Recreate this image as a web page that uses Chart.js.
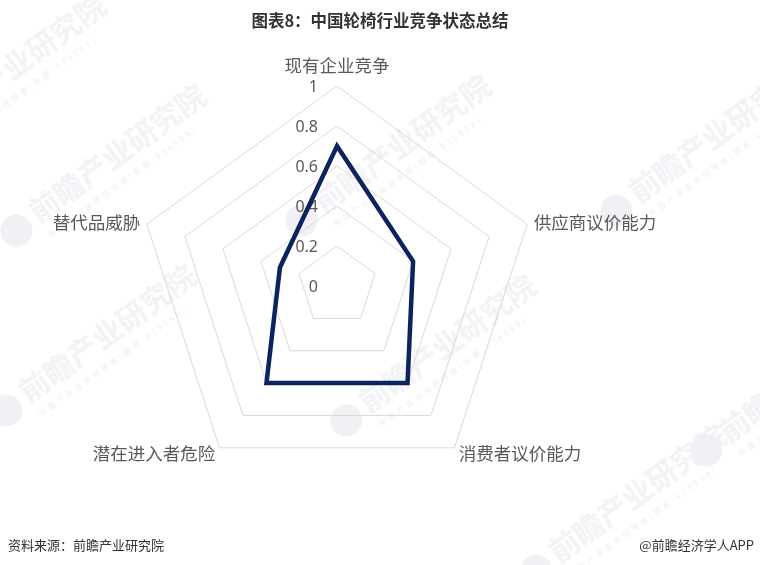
<!DOCTYPE html>
<html>
<head>
<meta charset="utf-8">
<script src="https://cdn.jsdelivr.net/npm/chart.js@4.4.0/dist/chart.umd.min.js"></script>
<style>
  html, body { margin: 0; padding: 0; background: #fff; }
  #wrap { position: relative; width: 760px; height: 565px; overflow: hidden; font-family: "Noto Sans CJK SC", sans-serif; }
  #radar { position: absolute; left: 0; top: 0; z-index: 2; }
  .title { position: absolute; left: 0; top: 8px; width: 760px; text-align: center; font-size: 16.5px; font-weight: 700; color: #333; line-height: 24px; z-index: 3; }
  .src { position: absolute; left: 8px; top: 536px; font-size: 13px; color: #333; line-height: 18px; z-index: 3; }
  .app { position: absolute; right: 6px; top: 536px; font-size: 13px; color: #333; line-height: 18px; z-index: 3; }
  .wm { position: absolute; z-index: 1; transform: rotate(-36deg); transform-origin: center; white-space: nowrap; color: #f2f3f6; font-weight: 700; font-size: 30px; }
  .wm small { display: block; font-size: 8px; font-weight: 400; letter-spacing: 3px; margin-left: 40px; color: #eff0f3; }
  .wm i { display: inline-block; width: 32px; height: 32px; border-radius: 50%; background: #eff1f4; vertical-align: middle; margin-right: 6px; }
</style>
</head>
<body>
<div id="wrap">
  <div class="title">图表8：中国轮椅行业竞争状态总结</div>
  <div class="wm" style="left:265px; top:130px;"><i></i>前瞻产业研究院<small>中国产业咨询领导者(股票:839599)</small></div>
  <div class="wm" style="left:580px; top:120px;"><i></i>前瞻产业研究院<small>中国产业咨询领导者(股票:839599)</small></div>
  <div class="wm" style="left:-20px; top:140px;"><i></i>前瞻产业研究院<small>中国产业咨询领导者(股票:839599)</small></div>
  <div class="wm" style="left:-120px; top:50px;"><i></i>前瞻产业研究院<small>中国产业咨询领导者(股票:839599)</small></div>
  <div class="wm" style="left:310px; top:330px;"><i></i>前瞻产业研究院<small>中国产业咨询领导者(股票:839599)</small></div>
  <div class="wm" style="left:-30px; top:320px;"><i></i>前瞻产业研究院<small>中国产业咨询领导者(股票:839599)</small></div>
  <div class="wm" style="left:500px; top:480px;"><i></i>前瞻产业研究院<small>中国产业咨询领导者(股票:839599)</small></div>
  <div class="wm" style="left:670px; top:360px;"><i></i>前瞻产业研究院<small>中国产业咨询领导者(股票:839599)</small></div>
  <canvas id="radar" width="760" height="565"></canvas>
  <div class="src">资料来源：前瞻产业研究院</div>
  <div class="app">@前瞻经济学人APP</div>
</div>
<script>
// axes, clockwise from the top
const categories = ['现有企业竞争', '供应商议价能力', '消费者议价能力', '潜在进入者危险', '替代品威胁'];
const values = [0.7, 0.4, 0.6, 0.6, 0.3];
const tickValues = [0, 0.2, 0.4, 0.6, 0.8, 1];
const tickLabels = ['0', '0.2', '0.4', '0.6', '0.8', '1'];

// tick labels sit left of the vertical axis, point labels round the outside
const labelPlugin = {
    id: 'radarLabels',
    beforeDatasetsDraw(chart) {
        const scale = chart.scales.r;
        const ctx = chart.ctx;
        ctx.save();
        ctx.fillStyle = '#595959';
        ctx.font = '16px "Noto Sans", sans-serif';
        ctx.textAlign = 'right';
        ctx.textBaseline = 'middle';
        for (let i = 0; i < tickValues.length; i++) {
            const d = scale.getDistanceFromCenterForValue(tickValues[i]);
            ctx.fillText(tickLabels[i], scale.xCenter - 19, scale.yCenter - d + 1);
        }

        ctx.font = '17.5px "Noto Sans CJK SC", sans-serif';
        const outer = scale.drawingArea;
        categories.forEach((txt, i) => {
            const p = scale.getPointPosition(i, i === 0 ? outer + 21 : outer + 7);
            if (i === 0) ctx.textAlign = 'center';
            else if (i <= 2) ctx.textAlign = 'left';
            else ctx.textAlign = 'right';
            ctx.fillText(txt, p.x, p.y);
        });
        ctx.restore();
    }
};

const data = {
    labels: categories,
    datasets: [{
        data: values,
        borderColor: '#0c2360',
        borderWidth: 4.5,
        borderJoinStyle: 'miter',
        backgroundColor: 'rgba(0,0,0,0)',
        fill: false,
        pointRadius: 0,
        pointHoverRadius: 0
    }]
};

const config = {
    type: 'radar',
    data: data,
    options: {
        responsive: false,
        animation: false,
        devicePixelRatio: 1,
        layout: {
            padding: { left: 137, top: 86, right: 223, bottom: 79 }
        },
        plugins: {
            legend: false,
            tooltip: false
        },
        scales: {
            r: {
                min: 0,
                max: 1,
                ticks: { stepSize: 0.2, display: false },
                grid: { color: '#d9d9d9', lineWidth: 1 },
                angleLines: { display: false },
                pointLabels: { display: false }
            }
        }
    },
    plugins: [labelPlugin]
};

let ctx = document.getElementById('radar').getContext('2d');
const radarChart = new Chart(ctx, config);
</script>
</body>
</html>
